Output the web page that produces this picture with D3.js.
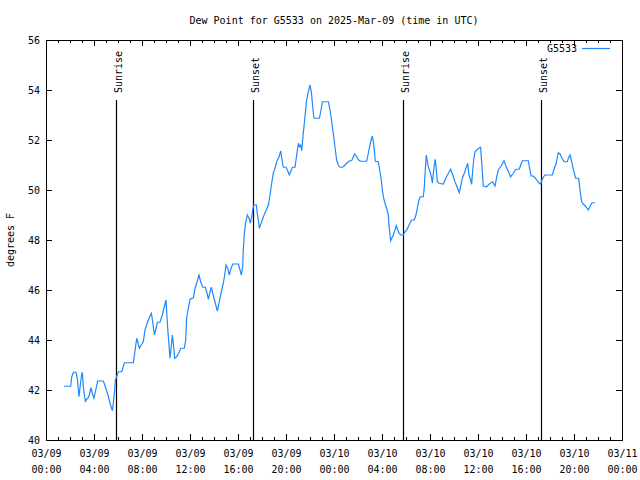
<!DOCTYPE html>
<html><head><meta charset="utf-8">
<script src="https://cdn.jsdelivr.net/npm/d3@7"></script>
<style>
body{margin:0;background:#fff;}
svg{display:block;}
text{font-family:"DejaVu Sans Mono",monospace;font-size:10px;fill:#000;}
</style></head>
<body><svg id="c" width="640" height="480"></svg>
<script>
const title = "Dew Point for G5533 on 2025-Mar-09 (time in UTC)";
const seriesName = "G5533";
const yLabel = "degrees F";
const startTime = "2025-03-09T00:00:00Z";
const endTime = "2025-03-11T00:00:00Z";
const yTicks = [40,42,44,46,48,50,52,54,56];
// hours since 2025-03-09 00:00 UTC
const hours = [1.5,2.06,2.14,2.28,2.5,2.61,2.75,2.86,2.94,3.03,3.11,3.28,3.39,3.56,3.75,3.86,4.0,4.22,4.31,4.78,4.94,5.17,5.33,5.53,5.61,5.72,5.78,5.89,6.03,6.31,6.53,7.28,7.39,7.56,7.64,7.78,7.94,8.11,8.25,8.44,8.67,8.78,8.89,9.03,9.22,9.28,9.5,9.69,9.83,10.0,10.14,10.28,10.33,10.42,10.53,10.61,10.72,10.89,11.06,11.22,11.53,11.64,11.72,11.86,12.0,12.28,12.42,12.61,12.75,12.89,13.06,13.28,13.42,13.53,13.67,13.78,13.89,14.08,14.28,14.39,14.58,14.78,14.89,15.0,15.14,15.28,15.42,15.56,16.03,16.17,16.28,16.39,16.44,16.53,16.64,16.78,16.92,17.03,17.14,17.25,17.33,17.53,17.61,17.78,17.97,18.17,18.36,18.53,18.67,18.81,18.94,19.08,19.22,19.42,19.56,19.69,19.78,20.0,20.14,20.28,20.39,20.53,20.75,20.89,21.03,21.11,21.22,21.31,21.44,21.58,21.72,21.86,22.0,22.11,22.28,22.33,22.78,22.89,23.03,23.53,23.67,23.81,23.94,24.08,24.22,24.36,24.5,24.72,24.92,25.11,25.28,25.47,25.72,25.89,26.06,26.22,26.72,26.83,26.94,27.06,27.19,27.28,27.36,27.44,27.69,27.81,27.92,28.03,28.14,28.25,28.39,28.53,28.58,28.67,28.72,28.81,28.94,29.08,29.19,29.31,29.42,29.56,29.78,29.92,30.06,30.19,30.33,30.47,30.69,30.83,30.97,31.08,31.19,31.44,31.53,31.58,31.69,31.78,31.86,32.0,32.14,32.19,32.28,32.36,32.44,32.53,32.61,32.75,33.11,33.31,33.53,33.72,33.89,34.08,34.25,34.44,34.58,34.69,34.86,35.0,35.14,35.25,35.39,35.47,35.56,35.64,35.75,35.89,36.08,36.22,36.31,36.44,36.72,36.94,37.22,37.42,37.56,37.69,37.92,38.17,38.33,38.53,38.72,38.94,39.14,39.44,39.56,39.69,40.19,40.33,40.42,40.61,40.78,40.94,41.11,41.22,41.33,41.44,41.58,42.19,42.33,42.5,42.69,42.83,42.97,43.17,43.44,43.53,43.67,43.81,43.94,44.14,44.39,44.5,44.64,44.78,45.0,45.19,45.39,45.5,45.75];
const dewPoint = [42.15,42.15,42.51,42.71,42.71,42.47,41.73,42.2,42.51,42.71,42.13,41.55,41.63,41.71,42.09,41.87,41.67,42.17,42.36,42.36,42.13,41.8,41.47,41.17,41.47,42.0,42.4,42.53,42.73,42.73,43.09,43.09,43.47,44.07,43.93,43.67,43.8,43.93,44.4,44.69,44.96,45.07,44.73,44.2,44.56,44.71,44.71,45.0,45.27,45.6,44.47,43.6,43.27,43.64,44.2,43.87,43.27,43.33,43.47,43.67,43.67,44.0,44.87,45.27,45.63,45.69,46.07,46.36,46.6,46.33,46.11,46.11,45.87,45.63,45.93,46.11,45.87,45.53,45.16,45.4,45.87,46.27,46.6,47.0,46.87,46.6,46.87,47.04,47.04,46.8,46.6,46.93,47.6,48.27,48.73,49.0,48.87,48.67,48.93,49.27,49.4,49.4,49.07,48.47,48.73,49.0,49.2,49.4,49.8,50.27,50.67,50.87,51.13,51.33,51.56,51.13,50.91,50.91,50.77,50.6,50.73,50.91,50.91,51.4,51.87,51.73,51.8,51.57,52.27,52.93,53.6,53.93,54.2,53.93,53.07,52.87,52.87,53.13,53.53,53.53,53.2,52.73,52.27,51.73,51.2,51.0,50.91,50.91,51.0,51.09,51.17,51.17,51.44,51.33,51.2,51.15,51.15,51.4,51.67,51.93,52.16,51.93,51.6,51.15,51.13,50.8,50.47,50.0,49.67,49.47,49.27,49.0,48.6,48.2,47.97,48.07,48.2,48.4,48.57,48.4,48.27,48.2,48.2,48.33,48.4,48.53,48.67,48.8,48.8,49.0,49.33,49.6,49.73,49.73,50.13,50.6,51.4,51.13,50.93,50.73,50.47,50.27,50.67,51.0,51.23,50.8,50.33,50.27,50.24,50.47,50.67,50.83,50.6,50.33,50.13,49.89,50.2,50.47,50.67,50.87,51.07,50.6,50.4,50.23,50.8,51.2,51.53,51.6,51.67,51.71,51.07,50.16,50.13,50.24,50.33,50.16,50.53,50.8,50.96,51.17,50.96,50.73,50.53,50.67,50.83,50.83,51.0,51.17,51.17,50.8,50.56,50.56,50.47,50.37,50.27,50.24,50.4,50.51,50.6,50.6,50.83,51.04,51.49,51.44,51.31,51.13,51.13,51.27,51.4,51.13,50.83,50.47,50.47,50.0,49.53,49.44,49.33,49.2,49.4,49.49,49.49];
const sunEvents = [
  {label:"Sunrise", time:"2025-03-09T05:50:00Z"},
  {label:"Sunset",  time:"2025-03-09T17:16:00Z"},
  {label:"Sunrise", time:"2025-03-10T05:47:00Z"},
  {label:"Sunset",  time:"2025-03-10T17:16:00Z"}
];

const L=46, R=622, T=40, B=440;
const svg = d3.select("#c");
const t0 = new Date(startTime);
const x = d3.scaleUtc().domain([t0, new Date(endTime)]).range([L, R]);
const y = d3.scaleLinear().domain([40, 56]).range([B, T]);
const data = hours.map((h,i)=>({t:new Date(t0.getTime()+h*3600000), v:dewPoint[i]}));

svg.append("rect").attr("width",640).attr("height",480).attr("fill","#fff");

// minor ticks (hourly)
const minor = d3.utcHour.every(1).range(x.domain()[0], new Date(new Date(endTime).getTime()+1));
svg.append("g").attr("transform",`translate(0,${B})`)
  .call(d3.axisBottom(x).tickValues(minor).tickSize(-3).tickFormat(""))
  .call(g=>{g.select(".domain").remove(); g.selectAll("line").attr("stroke","#000").attr("shape-rendering","crispEdges");});
svg.append("g").attr("transform",`translate(0,${T})`)
  .call(d3.axisTop(x).tickValues(minor).tickSize(-3).tickFormat(""))
  .call(g=>{g.select(".domain").remove(); g.selectAll("line").attr("stroke","#000").attr("shape-rendering","crispEdges");});

// major ticks (4 hours)
const fmtD = d3.utcFormat("%m/%d"), fmtH = d3.utcFormat("%H:%M");
const major = d3.utcHour.every(4).range(x.domain()[0], new Date(new Date(endTime).getTime()+1));
const xb = svg.append("g").attr("transform",`translate(0,${B})`)
  .call(d3.axisBottom(x).tickValues(major).tickSize(-6).tickFormat(""));
xb.select(".domain").remove();
xb.selectAll("line").attr("stroke","#000").attr("shape-rendering","crispEdges");
xb.selectAll(".tick text").each(function(d){
  const s = d3.select(this).attr("y",null).attr("dy",null).text(null)
    .attr("font-family",'"DejaVu Sans Mono",monospace').attr("font-size",10).attr("fill","#000");
  s.append("tspan").attr("x",0).attr("y",17).text(fmtD(d));
  s.append("tspan").attr("x",0).attr("y",33).text(fmtH(d));
});
svg.append("g").attr("transform",`translate(0,${T})`)
  .call(d3.axisTop(x).tickValues(major).tickSize(-6).tickFormat(""))
  .call(g=>{g.select(".domain").remove(); g.selectAll("line").attr("stroke","#000").attr("shape-rendering","crispEdges");});

// y axis
const yl = svg.append("g").attr("transform",`translate(${L},0)`)
  .call(d3.axisLeft(y).tickValues(yTicks).tickSize(-6).tickPadding(6).tickFormat(d3.format("d")));
yl.select(".domain").remove();
yl.selectAll("line").attr("stroke","#000").attr("shape-rendering","crispEdges");
yl.selectAll("text").attr("font-family",'"DejaVu Sans Mono",monospace').attr("font-size",10).attr("fill","#000");
svg.append("g").attr("transform",`translate(${R},0)`)
  .call(d3.axisRight(y).tickValues(yTicks).tickSize(-6).tickFormat(""))
  .call(g=>{g.select(".domain").remove(); g.selectAll("line").attr("stroke","#000").attr("shape-rendering","crispEdges");});

// border
svg.append("rect").attr("x",L+0.5).attr("y",T+0.5).attr("width",R-L).attr("height",B-T)
  .attr("fill","none").attr("stroke","#000").attr("shape-rendering","crispEdges");

// sun events
sunEvents.forEach(e=>{
  const px = Math.round(x(new Date(e.time)))+0.5;
  svg.append("line").attr("x1",px).attr("x2",px).attr("y1",100).attr("y2",B)
    .attr("stroke","#000").attr("stroke-width",1.2);
  svg.append("text").attr("transform",`translate(${px+5},93) rotate(-90)`)
    .attr("text-anchor","start").text(e.label);
});

// data line
svg.append("path").datum(data)
  .attr("fill","none").attr("stroke","#1e88ff").attr("stroke-width",1.2)
  .attr("d", d3.line().x(d=>x(d.t)).y(d=>y(d.v)));

// legend
svg.append("text").attr("x",577).attr("y",52).attr("text-anchor","end").text(seriesName);
svg.append("line").attr("x1",582).attr("x2",610).attr("y1",48.5).attr("y2",48.5)
  .attr("stroke","#1e88ff").attr("stroke-width",1.2);

// title and y label
svg.append("text").attr("x",(L+R)/2).attr("y",24).attr("text-anchor","middle").text(title);
svg.append("text").attr("transform","translate(14,240) rotate(-90)").attr("text-anchor","middle").text(yLabel);
</script></body></html>
